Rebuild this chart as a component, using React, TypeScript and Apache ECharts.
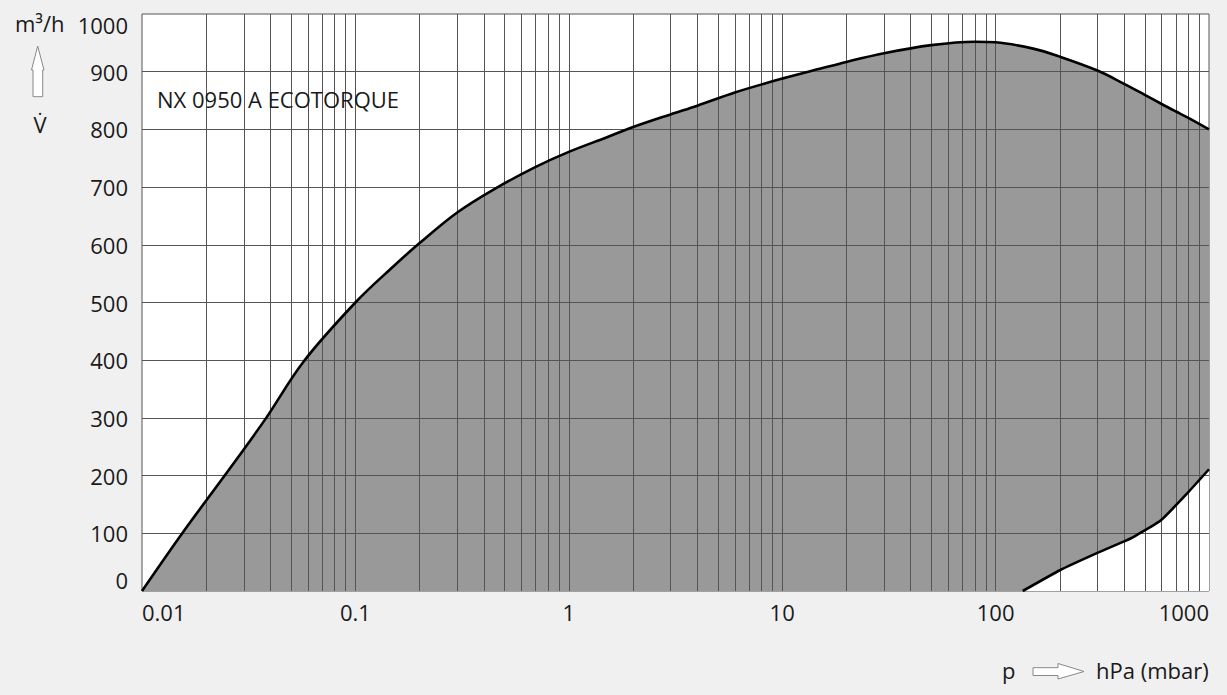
import React, { useEffect, useRef } from "react";
import * as echarts from "echarts";

// ---- data (pressure in hPa, flow in m³/h) ----
const UPPER_P = [0.01, 0.0155, 0.0245, 0.0377, 0.057, 0.1, 0.15, 0.2, 0.3, 0.45, 0.7, 1, 1.5, 2, 3, 4, 6, 10, 15, 20, 30, 50, 80, 100, 150, 200, 300, 400, 500, 600, 700, 800, 1000];
const UPPER_V = [0, 101, 201, 297, 397, 500, 562, 603, 656, 697, 735, 761, 786, 804, 826, 841, 864, 888, 905, 917, 932, 946, 952, 951, 940, 926, 902, 879, 860, 844, 831, 820, 800];

const LOWER_P = [134, 200, 300, 400, 444, 593, 776, 1000];
const LOWER_V = [0, 36, 66, 86, 94, 122, 166, 211];

const X_GRID = [0.02, 0.03, 0.04, 0.05, 0.06, 0.07, 0.08, 0.09, 0.1, 0.2, 0.3, 0.4, 0.5, 0.6, 0.7, 0.8, 0.9, 1, 2, 3, 4, 5, 6, 7, 8, 9, 10, 20, 30, 40, 50, 60, 70, 80, 90, 100, 200, 300, 400, 500, 600, 700, 800, 900];
const Y_GRID = [100, 200, 300, 400, 500, 600, 700, 800, 900];

const TITLE = "NX 0950 A ECOTORQUE";
const Y_UNIT = "m³/h";
const Y_SYMBOL = "V̇";
const X_SYMBOL = "p";
const X_UNIT = "hPa (mbar)";

const FONT = "'Open Sans', 'Noto Sans', sans-serif";
const TEXT_COLOR = "#1a1a1a";
const GRID_COLOR = "#555";

export default function App() {
  const ref = useRef<HTMLDivElement>(null);

  useEffect(() => {
    if (!ref.current) return;
    const chart = echarts.init(ref.current, undefined, { renderer: "svg" });

    const upper = UPPER_P.map((p, i) => [p, UPPER_V[i]]);
    const lower = LOWER_P.map((p, i) => [p, LOWER_V[i]]);
    const gridLines = [
      ...X_GRID.map((x) => ({ xAxis: x })),
      ...Y_GRID.map((y) => ({ yAxis: y })),
    ];

    const fmt = (v: number) => String(Number(Number(v).toPrecision(6)));

    const upperSmooth = 0.35;
    const lowerSmooth = 0.12;

    chart.setOption({
      animation: false,
      backgroundColor: "#f0f0f0",
      grid: {
        left: 142,
        right: 18,
        top: 14,
        bottom: 104,
        show: true,
        backgroundColor: "#ffffff",
        borderColor: GRID_COLOR,
        borderWidth: 1,
      },
      xAxis: {
        type: "log",
        logBase: 10,
        min: 0.01,
        max: 1000,
        axisLine: { show: false },
        axisTick: { show: false },
        splitLine: { show: false },
        axisLabel: {
          formatter: fmt,
          fontFamily: FONT,
          fontSize: 22,
          color: TEXT_COLOR,
          margin: 10,
          alignMinLabel: "left",
          alignMaxLabel: "right",
        },
      },
      yAxis: {
        type: "value",
        min: 0,
        max: 1000,
        interval: 100,
        axisLine: { show: false },
        axisTick: { show: false },
        splitLine: { show: false },
        axisLabel: {
          formatter: fmt,
          fontFamily: FONT,
          fontSize: 22,
          color: TEXT_COLOR,
          margin: 14,
          verticalAlignMinLabel: "bottom",
          verticalAlignMaxLabel: "top",
        },
      },
      series: [
        {
          type: "line",
          data: upper,
          smooth: upperSmooth,
          symbol: "none",
          z: 2,
          lineStyle: { width: 0 },
          areaStyle: { color: "#999999", opacity: 1 },
          silent: true,
        },
        {
          type: "line",
          data: lower,
          smooth: lowerSmooth,
          symbol: "none",
          z: 3,
          lineStyle: { width: 0 },
          areaStyle: { color: "#ffffff", opacity: 1 },
          silent: true,
          markLine: {
            silent: true,
            symbol: ["none", "none"],
            label: { show: false },
            lineStyle: { color: GRID_COLOR, width: 1, type: "solid" },
            data: gridLines,
            z: 5,
          },
        },
        {
          type: "line",
          data: upper,
          smooth: upperSmooth,
          symbol: "none",
          z: 10,
          lineStyle: { color: "#000", width: 2.6 },
          silent: true,
        },
        {
          type: "line",
          data: lower,
          smooth: lowerSmooth,
          symbol: "none",
          z: 10,
          lineStyle: { color: "#000", width: 2.6 },
          silent: true,
        },
      ],
      graphic: [
        {
          type: "text",
          x: 15,
          y: 22.5,
          style: { text: Y_UNIT, fontFamily: FONT, fontSize: 22, fill: TEXT_COLOR, align: "left", verticalAlign: "middle" },
        },
        {
          type: "polygon",
          shape: {
            points: [[37.7, 46], [44, 70], [42.7, 70], [42.7, 96.7], [33, 96.7], [33, 70], [31.5, 70]],
          },
          style: { fill: "#fff", stroke: "#888", lineWidth: 1 },
        },
        {
          type: "text",
          x: 40,
          y: 123.5,
          style: { text: Y_SYMBOL, fontFamily: FONT, fontSize: 22, fill: TEXT_COLOR, align: "center", verticalAlign: "middle" },
        },
        {
          type: "text",
          x: 157,
          y: 99,
          z: 20,
          style: { text: TITLE, fontFamily: FONT, fontSize: 22, fill: TEXT_COLOR, align: "left", verticalAlign: "middle" },
        },
        {
          type: "text",
          x: 1002,
          y: 670,
          style: { text: X_SYMBOL, fontFamily: FONT, fontSize: 22, fill: TEXT_COLOR, align: "left", verticalAlign: "middle" },
        },
        {
          type: "polygon",
          shape: {
            points: [[1033, 667.7], [1058, 667.7], [1058, 663.5], [1084, 671.5], [1058, 679], [1058, 675.5], [1033, 675.5]],
          },
          style: { fill: "#fff", stroke: "#888", lineWidth: 1 },
        },
        {
          type: "text",
          x: 1096,
          y: 670,
          style: { text: X_UNIT, fontFamily: FONT, fontSize: 22, fill: TEXT_COLOR, align: "left", verticalAlign: "middle" },
        },
      ],
    });

    return () => chart.dispose();
  }, []);

  return (
    <div
      ref={ref}
      style={{ position: "fixed", left: 0, top: 0, width: 1227, height: 695 }}
    />
  );
}
